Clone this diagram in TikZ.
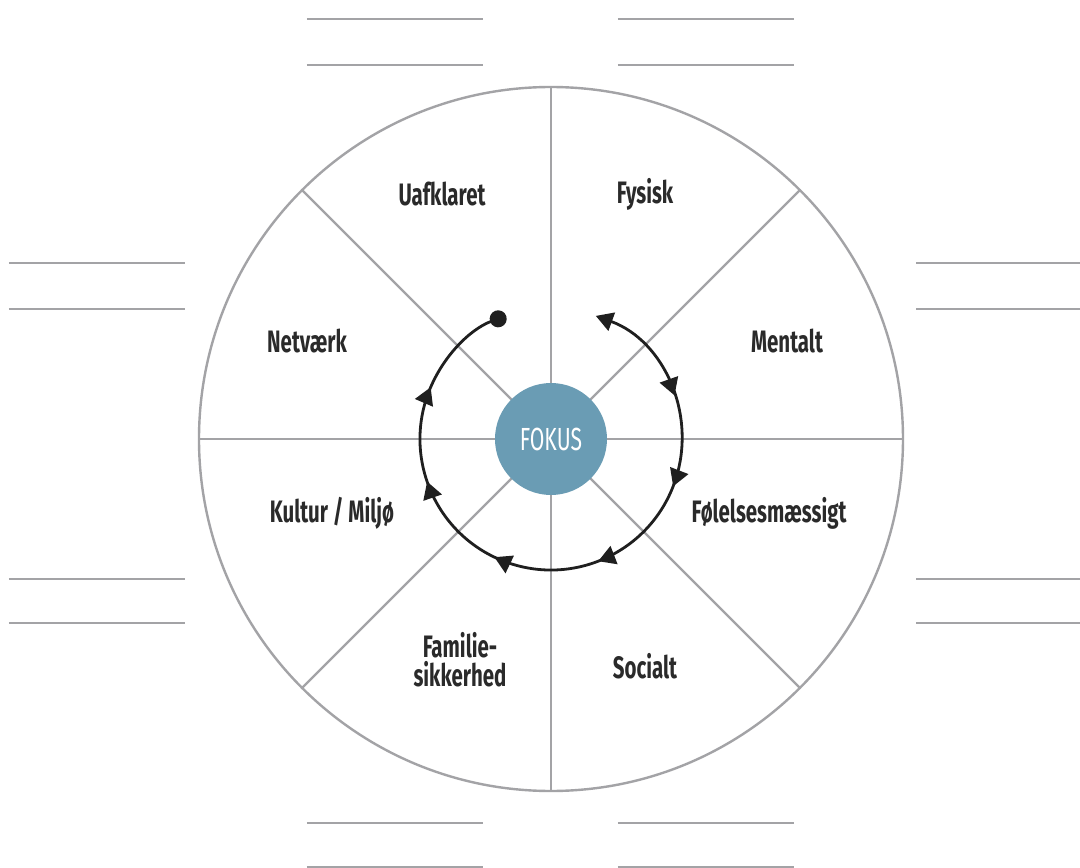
\documentclass[tikz,border=0pt]{standalone}
\usepackage{fontspec}
\setmainfont[FakeStretch=0.66]{Fira Sans}
\usetikzlibrary{arrows.meta,decorations.markings}
\definecolor{spoke}{HTML}{A3A3A6}
\definecolor{fokus}{HTML}{6A9CB4}
\definecolor{txt}{HTML}{2A2A2A}
\tikzset{
  spokeline/.style={draw=spoke,line width=2.4pt},
  blank/.style={draw=spoke,line width=2.6pt},
  seglabel/.style={text=txt,font=\fontsize{31}{32}\selectfont\bfseries,align=center,inner sep=0pt},
  cyc/.style={draw=black!88,line width=2.8pt},
  tipstyle/.style={Triangle[width=19pt,length=17pt]},
  midtip/.style={decoration={markings,
     mark=at position 0.158 with {\arrow{Triangle[width=19pt,length=17pt]}},
     mark=at position 0.285 with {\arrow{Triangle[width=19pt,length=17pt]}},
     mark=at position 0.434 with {\arrow{Triangle[width=19pt,length=17pt]}},
     mark=at position 0.580 with {\arrow{Triangle[width=19pt,length=17pt]}},
     mark=at position 0.722 with {\arrow{Triangle[width=19pt,length=17pt]}},
     mark=at position 0.854 with {\arrow{Triangle[width=19pt,length=17pt]}}},
     postaction={decorate}}
}
\begin{document}
\begin{tikzpicture}[x=1pt,y=1pt]
\useasboundingbox[fill=white] (-551,-429) rectangle (529,439);
% blank lines
\foreach \y in {420,374,-384,-428}{
  \draw[blank] (-244,\y) -- (-68,\y);
  \draw[blank] (67,\y) -- (243,\y);
}
\foreach \y in {176,130,-140,-184}{
  \draw[blank] (-542,\y) -- (-366,\y);
  \draw[blank] (365,\y) -- (529,\y);
}
% wheel
\coordinate (c) at (0,0);
\draw[spokeline] (c) circle[radius=352];
\foreach \a in {0,45,...,315}{
  \draw[spokeline] (c) -- (\a:352);
}
% labels
\node[seglabel] (uaf) at (-109,245) {Uafklaret};
\node[seglabel] (fys) at (94,245) {Fysisk};
\node[seglabel] (net) at (-244,98) {Netværk};
\node[seglabel] (men) at (236,98) {Mentalt};
\node[seglabel] (kul) at (-219,-74) {Kultur / Miljø};
\node[seglabel] (fol) at (218,-74) {Følelsesmæssigt};
\node[seglabel] (fam) at (-91,-221) {Familie-\\[-3pt]sikkerhed};
\node[seglabel] (soc) at (94,-227) {Socialt};
% cycle arrow
\draw[cyc,midtip,{Triangle[width=19pt,length=17pt]}-{Circle[length=17pt]}] (70:131) arc[start angle=70,end angle=-250,radius=131];
% focus
\node[circle,fill=fokus,minimum size=112pt,inner sep=0pt,text=white,
  font=\fontsize{32}{34}\selectfont] (fokus) at (c) {FOKUS};
\end{tikzpicture}
\end{document}
